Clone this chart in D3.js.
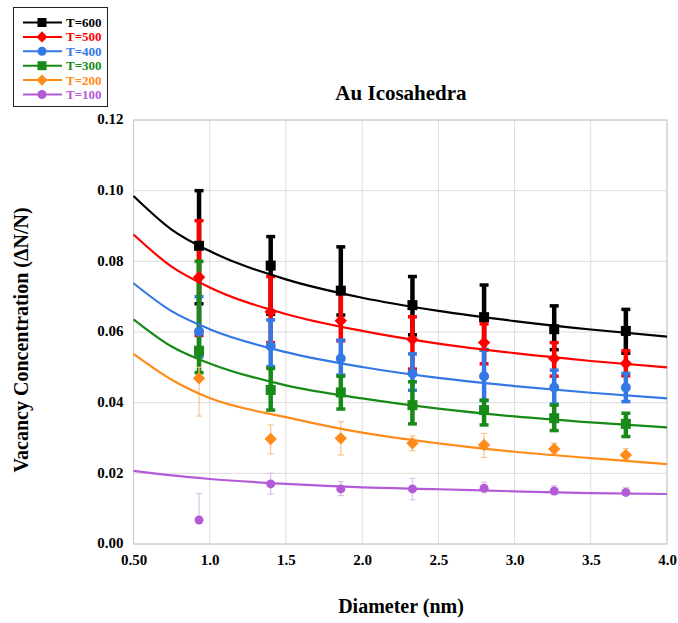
<!DOCTYPE html>
<html>
<head>
<meta charset="utf-8">
<script src="https://cdn.jsdelivr.net/npm/d3@7"></script>
<style>
  body { margin: 0; background: #fff; }
  text { font-family: "Liberation Serif", "Times New Roman", serif; font-weight: bold; }
</style>
</head>
<body>
<script>
// ---- data ----
var temps = ["T=600", "T=500", "T=400", "T=300", "T=200", "T=100"];
var colors = ["#000000", "#ff0000", "#3478e6", "#178a17", "#ff8c1a", "#b35ad6"];
var barColors = ["#000000", "#ff0000", "#3478e6", "#178a17", "#f9c48c", "#dcc0ec"];
var shapes = ["square", "diamond", "circle", "square", "diamond", "circle"];

var diameters = [0.93, 1.40, 1.86, 2.33, 2.80, 3.26, 3.73];

var values = [
  [0.0844, 0.0788, 0.0717, 0.0676, 0.0642, 0.0608, 0.0603],
  [0.0755, 0.0657, 0.0632, 0.0579, 0.0570, 0.0525, 0.0511],
  [0.0601, 0.0560, 0.0525, 0.0483, 0.0475, 0.0443, 0.0443],
  [0.0547, 0.0436, 0.0429, 0.0393, 0.0379, 0.0356, 0.0340],
  [0.0469, 0.0297, 0.0299, 0.0285, 0.0280, 0.0269, 0.0252],
  [0.0068, 0.0170, 0.0156, 0.0156, 0.0158, 0.0150, 0.0146]
];
var errTop = [
  [0.1000, 0.0870, 0.0841, 0.0757, 0.0733, 0.0674, 0.0664],
  [0.0915, 0.0757, 0.0715, 0.0643, 0.0623, 0.0570, 0.0547],
  [0.0700, 0.0634, 0.0577, 0.0538, 0.0549, 0.0492, 0.0483],
  [0.0800, 0.0497, 0.0475, 0.0459, 0.0407, 0.0393, 0.0370],
  [0.0500, 0.0337, 0.0346, 0.0306, 0.0313, 0.0285, 0.0270],
  [0.0143, 0.0200, 0.0176, 0.0186, 0.0175, 0.0165, 0.0160]
];
var errBottom = [
  [0.0680, 0.0650, 0.0648, 0.0592, 0.0550, 0.0550, 0.0540],
  [0.0590, 0.0570, 0.0575, 0.0495, 0.0510, 0.0475, 0.0476],
  [0.0530, 0.0502, 0.0478, 0.0435, 0.0406, 0.0396, 0.0403],
  [0.0485, 0.0379, 0.0382, 0.0340, 0.0337, 0.0321, 0.0304],
  [0.0362, 0.0255, 0.0252, 0.0264, 0.0245, 0.0255, 0.0240],
  [0.0064, 0.0141, 0.0137, 0.0125, 0.0145, 0.0140, 0.0140]
];

// fitted curves
var fitX = [0.5, 0.75, 1.0, 1.5, 2.0, 2.5, 3.0, 3.5, 4.0];
var fitY = [
  [0.0985, 0.0890, 0.0829, 0.0749, 0.0697, 0.0660, 0.0631, 0.0607, 0.0587],
  [0.0876, 0.0785, 0.0726, 0.0651, 0.0603, 0.0567, 0.0540, 0.0518, 0.0500],
  [0.0738, 0.0659, 0.0608, 0.0543, 0.0501, 0.0470, 0.0447, 0.0428, 0.0412],
  [0.0636, 0.0559, 0.0511, 0.0449, 0.0412, 0.0383, 0.0361, 0.0344, 0.0330],
  [0.0538, 0.0465, 0.0413, 0.0359, 0.0315, 0.0285, 0.0261, 0.0243, 0.0226],
  [0.0207, 0.0194, 0.0184, 0.0170, 0.0160, 0.0155, 0.0149, 0.0144, 0.01415]
];

var xTicks = [0.5, 1.0, 1.5, 2.0, 2.5, 3.0, 3.5, 4.0];
var yTicks = [0, 0.02, 0.04, 0.06, 0.08, 0.10, 0.12];

// ---- layout ----
var W = 678, H = 623;
var margin = {left: 133.5, right: 11, top: 120, bottom: 79};
var w = W - margin.left - margin.right, h = H - margin.top - margin.bottom;

var svg = d3.select("body").append("svg").attr("width", W).attr("height", H);
var g = svg.append("g").attr("transform", "translate(" + margin.left + "," + margin.top + ")");

var x = d3.scaleLinear().domain([0.5, 4.0]).range([0, w]);
var y = d3.scaleLinear().domain([0, 0.12]).range([h, 0]);

// grid
g.selectAll(".gx").data(xTicks).enter().append("line")
  .attr("x1", d => x(d)).attr("x2", d => x(d)).attr("y1", 0).attr("y2", h)
  .style("stroke", "#dcdcdc").style("stroke-width", 1);
g.selectAll(".gy").data(yTicks).enter().append("line")
  .attr("x1", 0).attr("x2", w).attr("y1", d => y(d)).attr("y2", d => y(d))
  .style("stroke", "#dcdcdc").style("stroke-width", 1);
g.append("rect").attr("width", w).attr("height", h)
  .style("fill", "none").style("stroke", "#c8c8c8").style("stroke-width", 1);

// axes (labels only)
var xAxis = g.append("g").attr("transform", "translate(0," + h + ")")
  .call(d3.axisBottom(x).tickValues(xTicks).tickSize(0).tickPadding(10)
    .tickFormat(d => d == 0.5 ? "0.50" : d3.format(".1f")(d)));
var yAxis = g.append("g")
  .call(d3.axisLeft(y).tickValues(yTicks).tickSize(0).tickPadding(10).tickFormat(d3.format(".2f")));
[xAxis, yAxis].forEach(function(a) {
  a.attr("font-family", null);
  a.select(".domain").remove();
  a.selectAll("text").style("font-family", "'Liberation Serif', serif")
    .style("font-weight", "bold").style("font-size", "15px").style("fill", "#000");
});
yAxis.selectAll("text").attr("dy", "0.25em");

// titles
svg.append("text").attr("x", 401).attr("y", 100).attr("text-anchor", "middle")
  .style("font-size", "21px").text("Au Icosahedra");
svg.append("text").attr("x", 401).attr("y", 613).attr("text-anchor", "middle")
  .style("font-size", "20px").text("Diameter (nm)");
svg.append("text").attr("transform", "translate(28,340) rotate(-90)").attr("text-anchor", "middle")
  .style("font-size", "20px").text("Vacancy Concentration (\u0394N/N)");

// marker helper
function marker(sel, shape, color, size) {
  if (shape == "square") {
    sel.append("rect").attr("x", -size / 2).attr("y", -size / 2)
      .attr("width", size).attr("height", size).style("fill", color);
  } else if (shape == "diamond") {
    var s = size * 0.62;
    sel.append("path").attr("d", "M0," + (-s) + "L" + s + ",0L0," + s + "L" + (-s) + ",0Z")
      .style("fill", color);
  } else {
    sel.append("circle").attr("r", size / 2).style("fill", color);
  }
}

var line = d3.line().x(d => x(d[0])).y(d => y(d[1])).curve(d3.curveMonotoneX);
var markerSize = [10, 10, 10, 10, 10, 9];

var series = temps.map(function(t, i) {
  return diameters.map(function(d, j) {
    return {x: d, v: values[i][j], hi: errTop[i][j], lo: errBottom[i][j]};
  });
});

// error bars
series.forEach(function(pts, i) {
  var thin = i >= 4;
  var sw = thin ? 1.2 : 4.5;
  var cap = thin ? 3 : 4.5;
  var bars = g.append("g").selectAll("g").data(pts).enter().append("g");
  bars.append("line")
    .attr("x1", d => x(d.x)).attr("x2", d => x(d.x))
    .attr("y1", d => y(d.hi)).attr("y2", d => y(d.lo))
    .style("stroke", barColors[i]).style("stroke-width", sw);
  ["hi", "lo"].forEach(function(k) {
    bars.append("line")
      .attr("x1", d => x(d.x) - cap).attr("x2", d => x(d.x) + cap)
      .attr("y1", d => y(d[k])).attr("y2", d => y(d[k]))
      .style("stroke", barColors[i]).style("stroke-width", thin ? 1.2 : 3.5);
  });
});

// fit curves
series.forEach(function(pts, i) {
  g.append("path").datum(fitX.map((fx, j) => [fx, fitY[i][j]]))
    .attr("d", line).style("fill", "none").style("stroke", colors[i]).style("stroke-width", 2.2);
});

// markers
series.forEach(function(pts, i) {
  g.append("g").selectAll("g").data(pts).enter().append("g")
    .attr("transform", d => "translate(" + x(d.x) + "," + y(d.v) + ")")
    .each(function() { marker(d3.select(this), shapes[i], colors[i], markerSize[i]); });
});

// legend
var leg = svg.append("g");
leg.append("rect").attr("x", 13.5).attr("y", 7.5).attr("width", 94).attr("height", 99)
  .style("fill", "#fff").style("stroke", "#222").style("stroke-width", 1);
var items = leg.selectAll(".item").data(temps).enter().append("g")
  .attr("transform", (d, i) => "translate(0," + (22.5 + i * 14.4) + ")");
items.append("line").attr("x1", 23).attr("x2", 62)
  .style("stroke", (d, i) => colors[i]).style("stroke-width", 2);
items.append("g").attr("transform", "translate(42,0)")
  .each(function(d, i) { marker(d3.select(this), shapes[i], colors[i], 9); });
items.append("text").attr("x", 66).attr("dy", "0.35em")
  .style("font-size", "13px").style("fill", (d, i) => colors[i]).text(d => d);
</script>
</body>
</html>
